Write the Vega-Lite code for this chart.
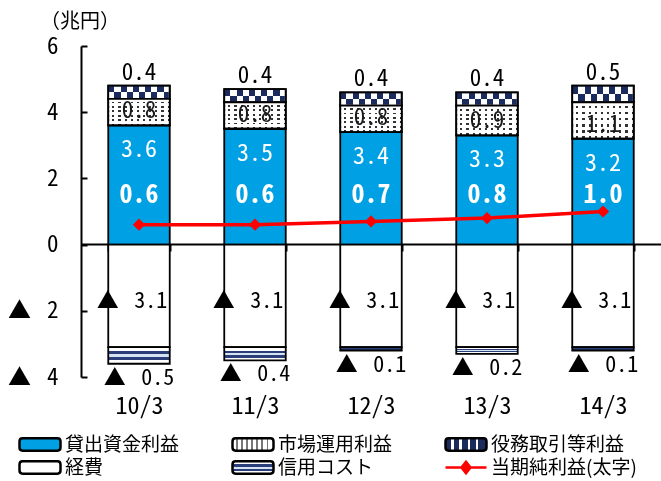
{
  "$schema": "https://vega.github.io/schema/vega-lite/v6.json",
  "width": 580,
  "height": 331,
  "autosize": {"type": "none"},
  "padding": {"left": 81, "top": 46, "right": 0, "bottom": 104},
  "background": "#ffffff",
  "title": {"text": "（兆円）", "anchor": "start", "frame": "group", "dx": -41, "offset": 3, "font": "Noto Sans CJK JP", "fontSize": 20, "fontWeight": "normal", "color": "#000000"},
  "config": {
    "view": {"stroke": null},
    "locale": {"number": {"decimal": ".", "thousands": ",", "grouping": [3], "currency": ["", ""], "minus": "▲ \u2009"}}
  },
  "datasets": {
    "bars": [
      {"year": "10/3", "series": "貸出資金利益", "order": 1, "value": 3.6},
      {"year": "10/3", "series": "市場運用利益", "order": 2, "value": 0.8},
      {"year": "10/3", "series": "役務取引等利益", "order": 3, "value": 0.4},
      {"year": "10/3", "series": "経費", "order": 4, "value": -3.1},
      {"year": "10/3", "series": "信用コスト", "order": 5, "value": -0.5},
      {"year": "11/3", "series": "貸出資金利益", "order": 1, "value": 3.5},
      {"year": "11/3", "series": "市場運用利益", "order": 2, "value": 0.8},
      {"year": "11/3", "series": "役務取引等利益", "order": 3, "value": 0.4},
      {"year": "11/3", "series": "経費", "order": 4, "value": -3.1},
      {"year": "11/3", "series": "信用コスト", "order": 5, "value": -0.4},
      {"year": "12/3", "series": "貸出資金利益", "order": 1, "value": 3.4},
      {"year": "12/3", "series": "市場運用利益", "order": 2, "value": 0.8},
      {"year": "12/3", "series": "役務取引等利益", "order": 3, "value": 0.4},
      {"year": "12/3", "series": "経費", "order": 4, "value": -3.1},
      {"year": "12/3", "series": "信用コスト", "order": 5, "value": -0.1},
      {"year": "13/3", "series": "貸出資金利益", "order": 1, "value": 3.3},
      {"year": "13/3", "series": "市場運用利益", "order": 2, "value": 0.9},
      {"year": "13/3", "series": "役務取引等利益", "order": 3, "value": 0.4},
      {"year": "13/3", "series": "経費", "order": 4, "value": -3.1},
      {"year": "13/3", "series": "信用コスト", "order": 5, "value": -0.2},
      {"year": "14/3", "series": "貸出資金利益", "order": 1, "value": 3.2},
      {"year": "14/3", "series": "市場運用利益", "order": 2, "value": 1.1},
      {"year": "14/3", "series": "役務取引等利益", "order": 3, "value": 0.5},
      {"year": "14/3", "series": "経費", "order": 4, "value": -3.1},
      {"year": "14/3", "series": "信用コスト", "order": 5, "value": -0.1}
    ],
    "net": [
      {"year": "10/3", "net": 0.6},
      {"year": "11/3", "net": 0.6},
      {"year": "12/3", "net": 0.7},
      {"year": "13/3", "net": 0.8},
      {"year": "14/3", "net": 1.0}
    ]
  },
  "layer": [
    {
      "data": {"name": "bars"},
      "transform": [{"stack": "value", "groupby": ["year"], "sort": [{"field": "order", "order": "ascending"}], "as": ["v0", "v1"]}],
      "layer": [
        {
          "mark": {"type": "bar", "stroke": "#000000", "strokeWidth": 1.8},
          "encoding": {
            "x": {"field": "year", "type": "nominal", "sort": null, "scale": {"paddingInner": 0.47, "paddingOuter": 0.235},
              "axis": {"orient": "bottom", "offset": -133, "title": null, "domainColor": "#000000", "domainWidth": 2, "tickColor": "#000000", "tickWidth": 2, "tickSize": 7, "tickBand": "extent", "labelPadding": 155, "labelFont": "Noto Sans Mono CJK JP, Liberation Mono, monospace", "labelFontSize": 24, "labelColor": "#000000", "labelAngle": 0, "labelBaseline": "middle"}},
            "y": {"field": "v0", "type": "quantitative", "scale": {"domain": [-4, 6], "nice": false, "zero": false},
              "axis": {"values": [-4, -2, 0, 2, 4, 6], "format": "d", "title": null, "domainColor": "#000000", "domainWidth": 2, "tickColor": "#000000", "tickWidth": 2, "tickSize": -6, "labelPadding": 29, "labelFont": "Noto Sans Mono CJK JP, Liberation Mono, monospace", "labelFontSize": 23, "labelColor": "#000000", "labelBaseline": "middle", "grid": false}},
            "y2": {"field": "v1"},
            "fill": {
              "field": "series", "type": "nominal",
              "scale": {"domain": ["貸出資金利益", "市場運用利益", "役務取引等利益", "経費", "信用コスト", "当期純利益(太字)"], "range": [
                "#00a0e4",
                {"expr": "{gradient:'linear',x1:0,y1:0,x2:1,y2:0,stops:[{offset:0,color:'#ffffff'},{offset:0.08,color:'#ffffff'},{offset:0.08,color:'#777777'},{offset:0.125,color:'#777777'},{offset:0.125,color:'#ffffff'},{offset:0.205,color:'#ffffff'},{offset:0.205,color:'#777777'},{offset:0.25,color:'#777777'},{offset:0.25,color:'#ffffff'},{offset:0.33,color:'#ffffff'},{offset:0.33,color:'#777777'},{offset:0.375,color:'#777777'},{offset:0.375,color:'#ffffff'},{offset:0.455,color:'#ffffff'},{offset:0.455,color:'#777777'},{offset:0.5,color:'#777777'},{offset:0.5,color:'#ffffff'},{offset:0.58,color:'#ffffff'},{offset:0.58,color:'#777777'},{offset:0.625,color:'#777777'},{offset:0.625,color:'#ffffff'},{offset:0.705,color:'#ffffff'},{offset:0.705,color:'#777777'},{offset:0.75,color:'#777777'},{offset:0.75,color:'#ffffff'},{offset:0.83,color:'#ffffff'},{offset:0.83,color:'#777777'},{offset:0.875,color:'#777777'},{offset:0.875,color:'#ffffff'},{offset:1,color:'#ffffff'}]}"},
                {"expr": "{gradient:'linear',x1:0,y1:0,x2:1,y2:0,stops:[{offset:0,color:'#1c2b5e'},{offset:0.14,color:'#1c2b5e'},{offset:0.14,color:'#ffffff'},{offset:0.2,color:'#ffffff'},{offset:0.2,color:'#1c2b5e'},{offset:0.34,color:'#1c2b5e'},{offset:0.34,color:'#ffffff'},{offset:0.4,color:'#ffffff'},{offset:0.4,color:'#1c2b5e'},{offset:0.54,color:'#1c2b5e'},{offset:0.54,color:'#ffffff'},{offset:0.6,color:'#ffffff'},{offset:0.6,color:'#1c2b5e'},{offset:0.74,color:'#1c2b5e'},{offset:0.74,color:'#ffffff'},{offset:0.8,color:'#ffffff'},{offset:0.8,color:'#1c2b5e'},{offset:1,color:'#1c2b5e'}]}"},
                "#ffffff",
                {"expr": "{gradient:'linear',x1:0,y1:0,x2:0,y2:1,stops:[{offset:0,color:'#ffffff'},{offset:0.25,color:'#ffffff'},{offset:0.25,color:'#2a3f7a'},{offset:0.42,color:'#2a3f7a'},{offset:0.42,color:'#d5e3f2'},{offset:0.62,color:'#d5e3f2'},{offset:0.62,color:'#2a3f7a'},{offset:0.78,color:'#2a3f7a'},{offset:0.78,color:'#ffffff'},{offset:1,color:'#ffffff'}]}"},
                "#ff0000"]},
              "condition": [
                {"test": "datum.series === '役務取引等利益'", "value": {"gradient": "linear", "x1": 0, "y1": 0, "x2": 1, "y2": 0, "stops": [
                  {"offset": 0, "color": "#000000"}, {"offset": 0.1, "color": "#000000"}, {"offset": 0.1, "color": "#ffffff"}, {"offset": 0.2, "color": "#ffffff"},
                  {"offset": 0.2, "color": "#000000"}, {"offset": 0.3, "color": "#000000"}, {"offset": 0.3, "color": "#ffffff"}, {"offset": 0.4, "color": "#ffffff"},
                  {"offset": 0.4, "color": "#000000"}, {"offset": 0.5, "color": "#000000"}, {"offset": 0.5, "color": "#ffffff"}, {"offset": 0.6, "color": "#ffffff"},
                  {"offset": 0.6, "color": "#000000"}, {"offset": 0.7, "color": "#000000"}, {"offset": 0.7, "color": "#ffffff"}, {"offset": 0.8, "color": "#ffffff"},
                  {"offset": 0.8, "color": "#000000"}, {"offset": 0.9, "color": "#000000"}, {"offset": 0.9, "color": "#ffffff"}, {"offset": 1, "color": "#ffffff"}]}},
                {"test": "datum.series === '市場運用利益'", "value": {"gradient": "linear", "x1": 0, "y1": 0, "x2": 1, "y2": 0, "stops": [
                  {"offset": 0, "color": "#ffffff"}, {"offset": 0.065, "color": "#ffffff"}, {"offset": 0.065, "color": "#333333"}, {"offset": 0.1, "color": "#333333"},
                  {"offset": 0.1, "color": "#ffffff"}, {"offset": 0.165, "color": "#ffffff"}, {"offset": 0.165, "color": "#333333"}, {"offset": 0.2, "color": "#333333"},
                  {"offset": 0.2, "color": "#ffffff"}, {"offset": 0.265, "color": "#ffffff"}, {"offset": 0.265, "color": "#333333"}, {"offset": 0.3, "color": "#333333"},
                  {"offset": 0.3, "color": "#ffffff"}, {"offset": 0.365, "color": "#ffffff"}, {"offset": 0.365, "color": "#333333"}, {"offset": 0.4, "color": "#333333"},
                  {"offset": 0.4, "color": "#ffffff"}, {"offset": 0.465, "color": "#ffffff"}, {"offset": 0.465, "color": "#333333"}, {"offset": 0.5, "color": "#333333"},
                  {"offset": 0.5, "color": "#ffffff"}, {"offset": 0.565, "color": "#ffffff"}, {"offset": 0.565, "color": "#333333"}, {"offset": 0.6, "color": "#333333"},
                  {"offset": 0.6, "color": "#ffffff"}, {"offset": 0.665, "color": "#ffffff"}, {"offset": 0.665, "color": "#333333"}, {"offset": 0.7, "color": "#333333"},
                  {"offset": 0.7, "color": "#ffffff"}, {"offset": 0.765, "color": "#ffffff"}, {"offset": 0.765, "color": "#333333"}, {"offset": 0.8, "color": "#333333"},
                  {"offset": 0.8, "color": "#ffffff"}, {"offset": 0.865, "color": "#ffffff"}, {"offset": 0.865, "color": "#333333"}, {"offset": 0.9, "color": "#333333"},
                  {"offset": 0.9, "color": "#ffffff"}, {"offset": 0.965, "color": "#ffffff"}, {"offset": 0.965, "color": "#333333"}, {"offset": 1, "color": "#333333"}]}}
              ],
              "legend": {
                "orient": "none", "legendX": -63, "legendY": 387, "columns": 3, "direction": "horizontal", "title": null,
                "symbolType": "M-0.85,-0.3L0.85,-0.3Q1,-0.3,1,-0.15L1,0.15Q1,0.3,0.85,0.3L-0.85,0.3Q-1,0.3,-1,0.15L-1,-0.15Q-1,-0.3,-0.85,-0.3Z",
                "symbolSize": 1681, "symbolStrokeWidth": 2.5, "symbolStrokeColor": "#000000",
                "clipHeight": 23, "rowPadding": 0, "columnPadding": 51,
                "labelFont": "Noto Sans CJK JP", "labelFontSize": 19, "labelColor": "#000000", "labelLimit": 300, "labelOffset": 3, "padding": 0,
                "encoding": {
                  "symbols": {
                    "stroke": {"condition": {"test": "datum.value === '当期純利益(太字)'", "value": "#ff0000"}, "value": "#000000"},
                    "shape": {"condition": {"test": "datum.value === '当期純利益(太字)'", "value": "M-1,0L1,0M0,-0.28L0.22,0L0,0.28L-0.22,0Z"}, "value": "M-0.85,-0.3L0.85,-0.3Q1,-0.3,1,-0.15L1,0.15Q1,0.3,0.85,0.3L-0.85,0.3Q-1,0.3,-1,0.15L-1,-0.15Q-1,-0.3,-0.85,-0.3Z"}
                  }
                }
              }
            }
          }
        },
        {
          "transform": [{"filter": "datum.series === '役務取引等利益'"}],
          "mark": {"type": "bar", "strokeWidth": 0, "blend": "difference", "fill": {"gradient": "linear", "x1": 0, "y1": 0, "x2": 0, "y2": 1, "stops": [
            {"offset": 0, "color": "#000000"}, {"offset": 0.5, "color": "#000000"}, {"offset": 0.5, "color": "#ffffff"}, {"offset": 1, "color": "#ffffff"}]}},
          "encoding": {
            "x": {"field": "year", "type": "nominal", "sort": null},
            "y": {"field": "v0", "type": "quantitative"},
            "y2": {"field": "v1"}
          }
        },
        {
          "transform": [{"filter": "datum.series === '役務取引等利益'"}],
          "mark": {"type": "bar", "strokeWidth": 0, "blend": "screen", "fill": "#1c2b5e"},
          "encoding": {
            "x": {"field": "year", "type": "nominal", "sort": null},
            "y": {"field": "v0", "type": "quantitative"},
            "y2": {"field": "v1"}
          }
        },
        {
          "transform": [{"filter": "datum.series === '役務取引等利益'"}],
          "mark": {"type": "bar", "filled": false, "stroke": "#000000", "strokeWidth": 1.8},
          "encoding": {
            "x": {"field": "year", "type": "nominal", "sort": null},
            "y": {"field": "v0", "type": "quantitative"},
            "y2": {"field": "v1"}
          }
        },
        {
          "transform": [{"filter": "datum.series === '市場運用利益'"}],
          "mark": {"type": "bar", "stroke": "#000000", "strokeWidth": 1.8, "fill": {"gradient": "linear", "x1": 0, "y1": 0, "x2": 0, "y2": 1, "stops": [
            {"offset": 0, "color": "#ffffff"}, {"offset": 0.1, "color": "#ffffff"}, {"offset": 0.1, "color": "rgba(255,255,255,0)"}, {"offset": 0.1667, "color": "rgba(255,255,255,0)"},
            {"offset": 0.1667, "color": "#ffffff"}, {"offset": 0.2667, "color": "#ffffff"}, {"offset": 0.2667, "color": "rgba(255,255,255,0)"}, {"offset": 0.3333, "color": "rgba(255,255,255,0)"},
            {"offset": 0.3333, "color": "#ffffff"}, {"offset": 0.4333, "color": "#ffffff"}, {"offset": 0.4333, "color": "rgba(255,255,255,0)"}, {"offset": 0.5, "color": "rgba(255,255,255,0)"},
            {"offset": 0.5, "color": "#ffffff"}, {"offset": 0.6, "color": "#ffffff"}, {"offset": 0.6, "color": "rgba(255,255,255,0)"}, {"offset": 0.6667, "color": "rgba(255,255,255,0)"},
            {"offset": 0.6667, "color": "#ffffff"}, {"offset": 0.7667, "color": "#ffffff"}, {"offset": 0.7667, "color": "rgba(255,255,255,0)"}, {"offset": 0.8333, "color": "rgba(255,255,255,0)"},
            {"offset": 0.8333, "color": "#ffffff"}, {"offset": 0.9333, "color": "#ffffff"}, {"offset": 0.9333, "color": "rgba(255,255,255,0)"}, {"offset": 1, "color": "rgba(255,255,255,0)"}]}},
          "encoding": {
            "x": {"field": "year", "type": "nominal", "sort": null},
            "y": {"field": "v0", "type": "quantitative"},
            "y2": {"field": "v1"}
          }
        },
        {
          "transform": [{"filter": "datum.series === '役務取引等利益'"}],
          "mark": {"type": "text", "font": "Noto Sans Mono CJK JP, Liberation Mono, monospace", "fontSize": 23, "color": "#000000", "dy": -13, "baseline": "middle"},
          "encoding": {
            "x": {"field": "year", "type": "nominal", "sort": null},
            "y": {"field": "v1", "type": "quantitative"},
            "text": {"field": "value", "type": "quantitative", "format": ".1f"}
          }
        },
        {
          "transform": [{"filter": "datum.series === '市場運用利益'"}],
          "mark": {"type": "text", "font": "Noto Sans Mono CJK JP, Liberation Mono, monospace", "fontSize": 23, "color": "#1a1a1a", "dy": -14, "baseline": "middle"},
          "encoding": {
            "x": {"field": "year", "type": "nominal", "sort": null},
            "y": {"field": "v0", "type": "quantitative"},
            "text": {"field": "value", "type": "quantitative", "format": ".1f"}
          }
        },
        {
          "transform": [{"filter": "datum.series === '貸出資金利益'"}],
          "mark": {"type": "text", "font": "Noto Sans Mono CJK JP, Liberation Mono, monospace", "fontSize": 24, "color": "#ffffff", "dy": 25, "baseline": "middle"},
          "encoding": {
            "x": {"field": "year", "type": "nominal", "sort": null},
            "y": {"field": "v1", "type": "quantitative"},
            "text": {"field": "value", "type": "quantitative", "format": ".1f"}
          }
        },
        {
          "transform": [{"filter": "datum.series === '経費'"}],
          "mark": {"type": "text", "font": "Noto Sans Mono CJK JP, Liberation Mono, monospace", "fontSize": 22, "color": "#000000", "dy": -46, "dx": -7, "baseline": "middle"},
          "encoding": {
            "x": {"field": "year", "type": "nominal", "sort": null},
            "y": {"field": "v1", "type": "quantitative"},
            "text": {"field": "value", "type": "quantitative", "format": ".1f"}
          }
        },
        {
          "transform": [{"filter": "datum.series === '信用コスト'"}],
          "mark": {"type": "text", "font": "Noto Sans Mono CJK JP, Liberation Mono, monospace", "fontSize": 22, "color": "#000000", "dy": 14, "baseline": "middle"},
          "encoding": {
            "x": {"field": "year", "type": "nominal", "sort": null},
            "y": {"field": "v1", "type": "quantitative"},
            "text": {"field": "value", "type": "quantitative", "format": ".1f"}
          }
        }
      ]
    },
    {
      "data": {"name": "net"},
      "layer": [
        {
          "mark": {"type": "line", "color": "#ff0000", "strokeWidth": 3.5, "point": {"shape": "diamond", "size": 150, "filled": true, "color": "#ff0000"}},
          "encoding": {
            "x": {"field": "year", "type": "nominal", "sort": null},
            "y": {"field": "net", "type": "quantitative"}
          }
        },
        {
          "mark": {"type": "text", "font": "Noto Sans Mono CJK JP, Liberation Mono, monospace", "fontSize": 26, "fontWeight": "bold", "color": "#ffffff", "baseline": "middle"},
          "encoding": {
            "x": {"field": "year", "type": "nominal", "sort": null},
            "y": {"datum": 1.5, "type": "quantitative"},
            "text": {"field": "net", "type": "quantitative", "format": ".1f"}
          }
        }
      ]
    }
  ]
}
